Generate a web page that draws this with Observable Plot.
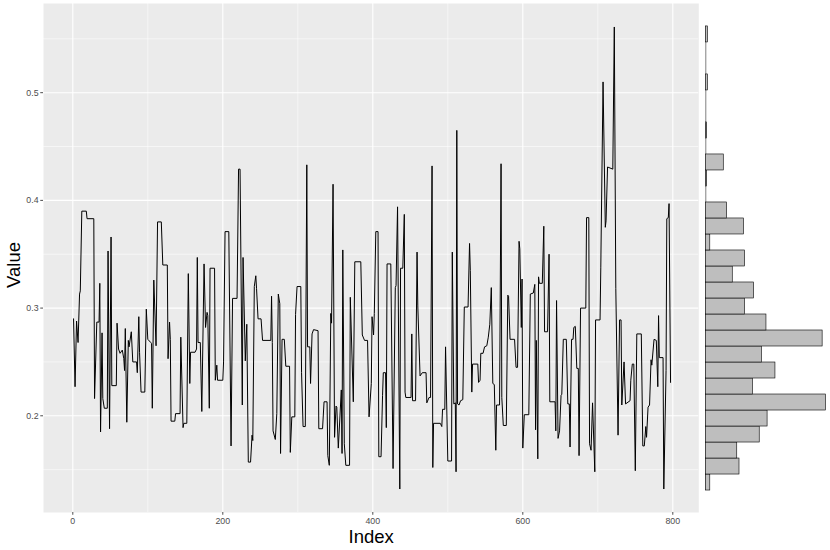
<!DOCTYPE html>
<html>
<head>
<meta charset="utf-8">
<script src="https://cdn.jsdelivr.net/npm/d3@7"></script>
<script src="https://cdn.jsdelivr.net/npm/@observablehq/plot@0.6"></script>
<style>
  html, body { margin: 0; padding: 0; background: #ffffff; }
  #chart { position: relative; width: 830px; height: 550px; background: #ffffff; }
  #main, #hist { position: absolute; top: 0; }
  #main { left: 0; }
  #hist { left: 700px; }
</style>
</head>
<body>
<div id="chart"><div id="main"></div><div id="hist"></div></div>
<script>
// ---- data ----
const xTicks = [0, 200, 400, 600, 800];
const xMinor = [100, 300, 500, 700];
const yTicks = [0.2, 0.3, 0.4, 0.5];
const yMinor = [0.15, 0.25, 0.35, 0.45, 0.55];

const idx = [1,3,5,7,9,10,12,18,19,28,29,32,35,36,37,39,40,42,46,47,49,51,52,58,59,61,63,66,68,69,70,72,74,75,78,80,85,86,88,89,91,96,98,100,104,105,106,108,111,113,118,120,126,127,129,130,131,136,137,143,144,147,148,152,154,156,157,163,165,166,167,170,172,175,177,179,180,182,183,189,190,192,193,200,201,203,208,211,213,219,221,223,226,227,230,232,234,237,239,240,242,244,245,247,251,253,264,265,266,267,270,272,274,276,277,279,282,284,289,290,292,296,297,299,304,305,307,310,312,313,316,317,319,321,327,328,333,335,339,340,342,344,345,347,349,351,352,354,358,359,360,362,364,369,370,374,376,384,386,389,393,395,398,399,401,402,404,407,408,411,413,414,417,418,419,424,427,430,431,433,436,437,440,442,443,444,451,452,453,457,459,460,463,466,471,472,475,477,479,480,481,490,492,493,496,497,500,505,506,508,510,511,512,513,515,517,520,522,527,529,530,532,533,540,541,543,544,547,549,552,554,556,558,560,562,564,565,569,571,572,574,578,580,581,583,589,591,593,595,596,598,599,600,602,608,610,614,616,617,618,620,621,622,626,628,629,633,635,636,643,644,645,647,649,651,652,654,658,660,662,663,665,667,668,670,672,674,675,677,684,685,688,689,691,693,696,697,703,704,707,710,711,713,720,722,724,727,729,731,732,735,737,743,744,746,748,750,752,758,760,762,764,765,767,769,771,772,775,778,780,781,782,787,788,791,792,794,795,797];
const val = [0.290,0.227,0.288,0.268,0.313,0.316,0.390,0.390,0.383,0.383,0.216,0.287,0.287,0.323,0.185,0.277,0.216,0.207,0.207,0.353,0.188,0.366,0.228,0.228,0.286,0.262,0.258,0.261,0.253,0.242,0.281,0.194,0.270,0.264,0.278,0.250,0.250,0.240,0.292,0.259,0.222,0.222,0.299,0.271,0.268,0.267,0.207,0.326,0.265,0.380,0.380,0.340,0.340,0.253,0.287,0.271,0.195,0.195,0.202,0.202,0.273,0.189,0.193,0.193,0.332,0.230,0.259,0.259,0.262,0.347,0.268,0.268,0.204,0.341,0.282,0.296,0.293,0.207,0.337,0.337,0.233,0.247,0.233,0.233,0.250,0.371,0.371,0.172,0.309,0.309,0.429,0.429,0.210,0.347,0.251,0.285,0.157,0.157,0.182,0.177,0.320,0.330,0.318,0.290,0.290,0.270,0.270,0.311,0.268,0.186,0.178,0.202,0.313,0.304,0.165,0.271,0.271,0.246,0.246,0.166,0.199,0.199,0.294,0.320,0.320,0.240,0.190,0.190,0.433,0.264,0.264,0.230,0.276,0.280,0.279,0.188,0.188,0.213,0.213,0.163,0.154,0.295,0.286,0.415,0.180,0.209,0.208,0.170,0.224,0.165,0.354,0.174,0.154,0.154,0.310,0.213,0.343,0.343,0.275,0.270,0.270,0.199,0.230,0.292,0.275,0.295,0.371,0.371,0.162,0.162,0.219,0.240,0.240,0.189,0.341,0.341,0.151,0.319,0.321,0.394,0.132,0.337,0.337,0.387,0.222,0.217,0.217,0.276,0.214,0.214,0.352,0.302,0.237,0.240,0.240,0.212,0.217,0.217,0.432,0.152,0.193,0.193,0.190,0.206,0.206,0.264,0.158,0.158,0.352,0.211,0.212,0.148,0.465,0.211,0.210,0.214,0.215,0.301,0.301,0.360,0.335,0.222,0.248,0.248,0.231,0.233,0.258,0.258,0.264,0.265,0.273,0.285,0.319,0.230,0.229,0.168,0.210,0.210,0.434,0.217,0.191,0.191,0.312,0.311,0.271,0.271,0.245,0.245,0.362,0.355,0.282,0.327,0.170,0.201,0.201,0.313,0.314,0.322,0.187,0.270,0.160,0.329,0.323,0.323,0.376,0.278,0.278,0.350,0.213,0.213,0.186,0.307,0.179,0.186,0.219,0.220,0.271,0.271,0.211,0.211,0.171,0.271,0.271,0.282,0.283,0.244,0.244,0.163,0.300,0.300,0.384,0.384,0.174,0.168,0.212,0.148,0.289,0.289,0.338,0.510,0.375,0.381,0.431,0.429,0.561,0.318,0.182,0.289,0.289,0.210,0.250,0.211,0.214,0.233,0.248,0.248,0.149,0.276,0.276,0.172,0.172,0.190,0.180,0.208,0.210,0.252,0.247,0.271,0.270,0.227,0.293,0.254,0.254,0.132,0.242,0.383,0.384,0.397,0.231];

// marginal histogram: counts per bin, lowest value bin first
const histLow = 0.1306;
const histHigh = 0.5615;
const histCounts = [4,30,28,48,55,107,42,62,50,104,54,35,43,24,35,4,34,19,0,1,16,0,1,0,0,2,0,0,2];

// ---- build tables ----
const series = idx.map((x, i) => ({index: x, value: val[i]}));
const binW = (histHigh - histLow) / histCounts.length;
const bins = histCounts.map((c, k) => ({lo: histLow + k * binW, hi: histLow + (k + 1) * binW, count: c}));

const font = "'Liberation Sans', Arial, Helvetica, sans-serif";
const yDomain = [0.1102, 0.5828];
const M = {top: 3, bottom: 38};

const main = Plot.plot({
  width: 700, height: 550,
  marginLeft: 43, marginRight: 1.7, marginTop: M.top, marginBottom: M.bottom,
  style: {fontFamily: font, background: "transparent", overflow: "visible"},
  x: {domain: [-39.07, 834.67]},
  y: {domain: yDomain},
  marks: [
    Plot.frame({fill: "#ebebeb", stroke: null}),
    Plot.gridX(xMinor, {stroke: "#ffffff", strokeOpacity: 1, strokeWidth: 0.55}),
    Plot.gridY(yMinor, {stroke: "#ffffff", strokeOpacity: 1, strokeWidth: 0.55}),
    Plot.gridX(xTicks, {stroke: "#ffffff", strokeOpacity: 1, strokeWidth: 1.1}),
    Plot.gridY(yTicks, {stroke: "#ffffff", strokeOpacity: 1, strokeWidth: 1.1}),
    Plot.line(series, {x: "index", y: "value", stroke: "#000000", strokeWidth: 1.0}),
    Plot.axisX(xTicks, {tickSize: 2.75, tickPadding: 2.2, fontSize: 8.8, color: "#4d4d4d", label: null}),
    Plot.axisY(yTicks, {tickSize: 2.75, tickPadding: 2.2, fontSize: 8.8, color: "#4d4d4d", label: null, tickFormat: d => d.toFixed(1)}),
    Plot.text(["Index"], {text: d => d, frameAnchor: "bottom", lineAnchor: "middle", textAnchor: "middle", dy: 25, fontSize: 18.5, fill: "#000000"}),
    Plot.text(["Value"], {text: d => d, frameAnchor: "left", lineAnchor: "middle", textAnchor: "middle", dx: -29, dy: 7, rotate: -90, fontSize: 18.5, fill: "#000000"})
  ]
});
document.getElementById("main").appendChild(main);

const hist = Plot.plot({
  width: 130, height: 550,
  marginLeft: 5.3, marginRight: 4.5, marginTop: M.top, marginBottom: M.bottom,
  style: {fontFamily: font, background: "transparent", overflow: "visible"},
  x: {domain: [0, 107], axis: null},
  y: {domain: yDomain, axis: null},
  marks: [
    Plot.ruleX([0], {y1: histLow, y2: histHigh, stroke: "#000000", strokeWidth: 0.5}),
    Plot.rectX(bins.filter(b => b.count > 0), {x1: 0, x2: "count", y1: "lo", y2: "hi", fill: "#bebebe", stroke: "#000000", strokeWidth: 0.6})
  ]
});
document.getElementById("hist").appendChild(hist);
</script>
</body>
</html>
